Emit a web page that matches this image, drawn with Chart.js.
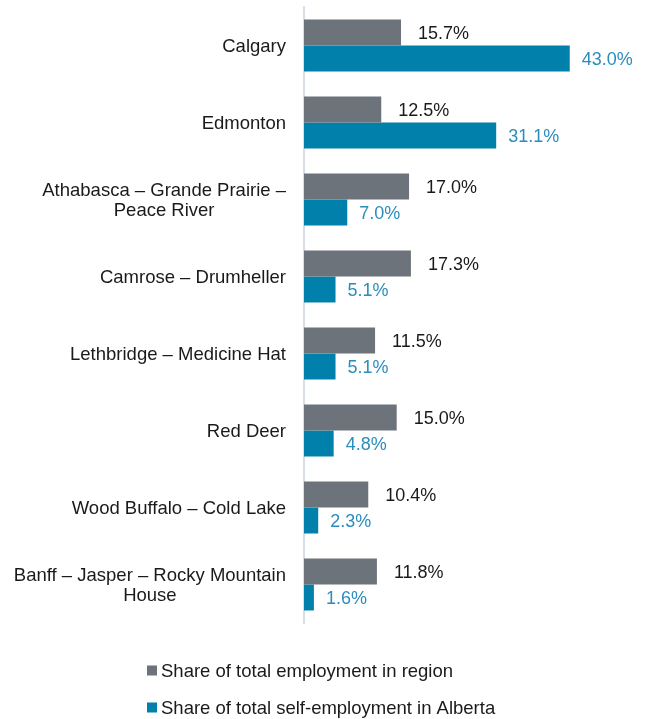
<!DOCTYPE html>
<html>
<head>
<meta charset="utf-8">
<script src="https://cdn.jsdelivr.net/npm/chart.js@4.4.1/dist/chart.umd.min.js"></script>
<style>
  html, body { margin: 0; padding: 0; background: #fff; }
  #wrap { width: 647px; height: 719px; position: relative; }
</style>
</head>
<body>
<div id="wrap"><canvas id="chart" width="647" height="719"></canvas></div>
<script>
let regions = [
    "Calgary",
    "Edmonton",
    ["Athabasca – Grande Prairie –", "Peace River"],
    "Camrose – Drumheller",
    "Lethbridge – Medicine Hat",
    "Red Deer",
    "Wood Buffalo – Cold Lake",
    ["Banff – Jasper – Rocky Mountain", "House"]
];
let employmentShare = [15.7, 12.5, 17.0, 17.3, 11.5, 15.0, 10.4, 11.8];
let selfEmploymentShare = [43.0, 31.1, 7.0, 5.1, 5.1, 4.8, 2.3, 1.6];
let seriesNames = ["Share of total employment in region", "Share of total self-employment in Alberta"];

const FONT = "'Liberation Sans', Arial, sans-serif";
const GREY = "#6d737b";
const TEAL = "#0080aa";
const TEXT = "#1a1a1a";
const labelColors = [TEXT, "#2a8dbd"];
const labelGaps = [17, 12];

// category names: block right-aligned to the axis, lines centred in the block
const categoryLabels = {
    id: "categoryLabels",
    afterDraw(chart) {
        let ctx = chart.ctx;
        let y = chart.scales.y;
        ctx.save();
        ctx.font = "18.5px " + FONT;
        ctx.fillStyle = TEXT;
        ctx.textAlign = "center";
        ctx.textBaseline = "middle";
        chart.data.labels.forEach((lab, i) => {
            let lines = Array.isArray(lab) ? lab : [lab];
            let w = Math.max(...lines.map(l => ctx.measureText(l).width));
            let cx = y.right - 18 - w / 2;
            let cy = y.getPixelForValue(i) - (lines.length - 1) * 10 + 1;
            lines.forEach((l, k) => ctx.fillText(l, cx, cy + k * 20));
        });
        ctx.restore();
    }
};

// value labels to the right of every bar
const barLabels = {
    id: "barLabels",
    afterDatasetsDraw(chart) {
        let ctx = chart.ctx;
        ctx.save();
        ctx.font = "18px " + FONT;
        ctx.textAlign = "left";
        ctx.textBaseline = "middle";
        chart.data.datasets.forEach((ds, i) => {
            let meta = chart.getDatasetMeta(i);
            meta.data.forEach((bar, j) => {
                ctx.fillStyle = labelColors[i];
                ctx.fillText(ds.data[j].toFixed(1) + "%", bar.x + labelGaps[i], bar.y + 1.5);
            });
        });
        ctx.restore();
    }
};

// stacked legend under the plot
const stackedLegend = {
    id: "stackedLegend",
    afterDraw(chart) {
        let ctx = chart.ctx;
        ctx.save();
        ctx.font = "18.5px " + FONT;
        ctx.textBaseline = "middle";
        chart.data.datasets.forEach((ds, i) => {
            let y = 670.5 + i * 37;
            ctx.fillStyle = ds.backgroundColor;
            ctx.fillRect(147, y - 5, 10, 10);
            ctx.fillStyle = TEXT;
            ctx.fillText(ds.label, 161, y + 1);
        });
        ctx.restore();
    }
};

new Chart(document.getElementById("chart"), {
    type: "bar",
    data: {
        labels: regions,
        datasets: [
            { label: seriesNames[0], data: employmentShare, backgroundColor: GREY },
            { label: seriesNames[1], data: selfEmploymentShare, backgroundColor: TEAL }
        ]
    },
    options: {
        indexAxis: "y",
        responsive: false,
        animation: false,
        layout: { padding: { top: 7, bottom: 96, left: 0, right: 34 } },
        datasets: { bar: { categoryPercentage: 0.675, barPercentage: 1.0 } },
        scales: {
            x: { display: false, min: 0, max: 50 },
            y: {
                grid: { display: false, drawTicks: false },
                border: { display: true, color: "#d8dee5", width: 2 },
                ticks: { display: false },
                afterFit(axis) { axis.width = 304; }
            }
        },
        plugins: {
            legend: { display: false },
            tooltip: { enabled: false }
        }
    },
    plugins: [categoryLabels, barLabels, stackedLegend]
});
</script>
</body>
</html>
